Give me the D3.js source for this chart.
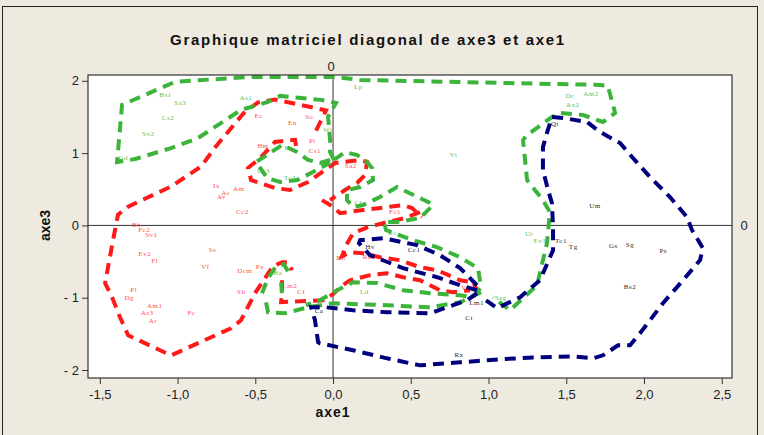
<!DOCTYPE html>
<html>
<head>
<meta charset="utf-8">
<script src="https://cdn.jsdelivr.net/npm/d3@7"></script>
<style>
  html, body { margin: 0; padding: 0; background: #eeeae0; }
  svg { display: block; }
</style>
</head>
<body>
<div id="chart"></div>
<script>
// --- chart values ---
const xTicks = [-1.5, -1.0, -0.5, 0.0, 0.5, 1.0, 1.5, 2.0, 2.5];
const yTicks = [-2, -1, 0, 1, 2];

// point labels per group: [name, axe1, axe3]
const redPoints = [
  ["Ec", -0.478, 1.518], ["En", -0.262, 1.421], ["So", -0.154, 1.504], ["Pt", -0.133, 1.172],
  ["Cs1", -0.118, 1.033], ["Hm", -0.450, 1.102], ["Ix", -0.750, 0.558], ["Ac", -0.690, 0.461],
  ["Av", -0.718, 0.406], ["Am", -0.606, 0.503], ["Cc2", -0.583, 0.188], ["Bh", -1.265, 0.014],
  ["Fc2", -1.215, -0.055], ["Sv1", -1.168, -0.120], ["Ev2", -1.211, -0.388], ["Fl", -1.147, -0.481],
  ["Ss", -0.776, -0.328], ["Vf", -0.821, -0.573], ["Dcm", -0.568, -0.619], ["Pa", -0.471, -0.573],
  ["Pl", -1.282, -0.886], ["Dg", -1.310, -0.997], ["Am1", -1.147, -1.104], ["As3", -1.196, -1.201],
  ["Ar", -1.158, -1.321], ["Fc", -0.911, -1.211], ["Sh", -0.590, -0.920], ["Lm2", -0.278, -0.827],
  ["Cf", -0.204, -0.920], ["Sa2", 0.114, 0.825], ["Fc1", 0.399, 0.194], ["Bh", 0.050, -0.449],
  ["Rda", 0.233, -0.425], ["Vts", 0.860, -0.859]
];
const greenPoints = [
  ["Bs1", -1.078, 1.814], ["Sa3", -0.982, 1.698], ["Cs2", -1.061, 1.496], ["Sv2", -1.188, 1.274],
  ["Gd", -1.350, 0.936], ["As1", -0.561, 1.773], ["Wt", -0.032, 1.330], ["Fr", -0.289, 1.071],
  ["Cc3", -0.446, 0.752], ["Tc2", -0.278, 0.665], ["Lp", 0.163, 1.920], ["Vt", 0.774, 0.983],
  ["Dc", 1.524, 1.801], ["Ax2", 1.541, 1.676], ["Am2", 1.659, 1.823], ["Ch", 0.167, 0.313],
  ["Rc", 0.384, -0.093], ["Ur", 1.262, -0.111], ["Ev1", 1.331, -0.204], ["Ld", 0.201, -0.920],
  ["Sag", 1.078, -0.997], ["Ba", -0.354, -0.651]
];
const darkPoints = [
  ["Hv", 0.238, -0.296], ["Cc1", 0.521, -0.338], ["Lm1", 0.924, -1.066], ["Ct", 0.875, -1.274],
  ["Rx", 0.810, -1.787], ["Ca", -0.090, -1.173], ["Tc1", 1.466, -0.213], ["Tg", 1.545, -0.296],
  ["Gs", 1.803, -0.283], ["Sg", 1.910, -0.259], ["Ps", 2.124, -0.352], ["Bs2", 1.910, -0.850],
  ["Um", 1.685, 0.271], ["Qt", 1.428, 1.413]
];

// hand drawn group outlines: [axe1, axe3] vertices
const redOutlines = [
  [[-0.109,1.312],[-0.045,1.590],[-0.373,1.742],[-0.482,1.701],[-0.566,1.576],[-0.759,1.078],
   [-0.849,0.814],[-1.042,0.537],[-1.318,0.260],[-1.383,0.149],[-1.415,-0.204],[-1.466,-0.800],
   [-1.421,-0.994],[-1.370,-1.271],[-1.318,-1.520],[-1.042,-1.797],[-0.656,-1.423],[-0.592,-1.312],
   [-0.502,-0.938],[-0.386,-0.564],[-0.328,-0.509],[-0.289,-0.509],[-0.264,-0.620]],
  [[-0.238,1.100],[-0.244,1.183],[-0.373,1.155],[-0.469,0.932],[-0.547,0.794],[-0.527,0.627],
   [-0.373,0.517],[-0.277,0.489],[-0.161,0.600],[-0.071,0.738],[0.013,0.863],[0.174,0.904],
   [0.219,0.877],[0.206,0.697],[0.154,0.586],[0.077,0.489],[-0.019,0.350]],
  [[-0.071,0.350],[-0.006,0.267],[0.045,0.170],[0.193,0.212],[0.450,0.281],[0.508,0.240],[0.572,0.115]],
  [[0.559,0.184],[0.463,0.101],[0.322,0.032],[0.225,-0.024],[0.129,-0.107],[0.084,-0.273],
   [0.058,-0.425],[0.109,-0.370],[0.193,-0.384],[0.302,-0.440],[0.431,-0.481],[0.559,-0.578],
   [0.669,-0.619],[0.817,-0.758],[0.900,-0.786],[0.926,-0.896]],
  [[-0.328,-0.758],[-0.328,-0.938],[-0.334,-1.062],[-0.212,-1.048],[-0.064,-1.035],[0.000,-0.952],
   [0.045,-0.855],[0.109,-0.758],[0.238,-0.688],[0.347,-0.661],[0.450,-0.717],[0.559,-0.758],
   [0.688,-0.896],[0.772,-0.924],[0.881,-0.896]]
];
const greenOutlines = [
  [[0.006,0.905],[-0.019,1.015],[-0.019,1.181],[-0.032,1.500],[0.019,1.694],[-0.077,1.736],
   [-0.341,1.791],[-0.418,1.708],[-0.592,1.597],[-0.868,1.209],[-1.042,1.070],[-1.273,0.918],
   [-1.389,0.877],[-1.357,1.666],[-1.016,1.985],[-0.534,2.054],[0.013,2.054],[0.174,2.012],
   [1.717,1.943],[1.768,1.929],[1.814,1.555],[1.736,1.430],[1.608,1.527],[1.460,1.555],
   [1.408,1.499],[1.248,1.250],[1.222,1.181],[1.248,0.627],[1.350,0.350],[1.395,0.184],
   [1.376,-0.246],[1.312,-0.827],[1.138,-1.174],[1.029,-0.993]],
  [[0.006,0.905],[0.077,1.015],[0.154,0.974],[0.219,0.877],[0.251,0.794],[0.257,0.627],
   [0.174,0.531],[0.090,0.489],[0.090,0.350],[0.129,0.254],[0.193,0.281],[0.302,0.392],
   [0.412,0.531],[0.624,0.309],[0.643,0.281],[0.559,0.101],[0.412,0.046],[0.328,0.046],
   [0.341,-0.065],[0.514,-0.204],[0.669,-0.301],[0.817,-0.440],[0.932,-0.591],[0.952,-0.855],
   [0.900,-0.993],[0.817,-0.965],[0.624,-0.938],[0.450,-0.896],[0.283,-0.797],[0.129,-0.786],
   [0.026,-0.896],[-0.084,-1.035],[-0.174,-1.104]],
  [[0.952,-0.924],[0.817,-1.062],[0.624,-1.132],[0.347,-1.104],[0.000,-1.076],[-0.161,-1.132],
   [-0.309,-1.215],[-0.418,-1.201],[-0.431,-1.062]],
  [[-0.457,-0.938],[-0.418,-0.730],[-0.367,-0.564],[-0.315,-0.537],[-0.277,-0.689]],
  [[-0.334,-0.786],[-0.328,-0.979]],
  [[-0.019,0.905],[-0.084,0.863],[-0.161,0.905],[-0.232,1.015],[-0.328,1.112],[-0.405,1.001],
   [-0.495,0.877],[-0.450,0.738],[-0.424,0.655],[-0.341,0.600],[-0.232,0.627],[-0.129,0.738],
   [-0.084,0.794],[-0.019,0.863]]
];
const darkOutlines = [
  [[0.984,-1.035],[1.055,-1.145],[1.203,-0.993],[1.331,-0.758],[1.415,-0.343],[1.415,-0.024],
   [1.408,0.309],[1.383,0.489],[1.350,0.766],[1.350,1.085],[1.376,1.279],[1.408,1.500],
   [1.479,1.486],[1.633,1.431],[1.717,1.292],[1.846,1.140],[1.929,0.932],[2.039,0.669],
   [2.167,0.392],[2.277,0.115],[2.309,-0.066],[2.379,-0.315],[2.360,-0.481],[2.251,-0.758],
   [2.122,-1.076],[1.974,-1.492],[1.910,-1.658],[1.833,-1.658],[1.736,-1.796],[1.672,-1.838],
   [1.543,-1.811],[1.286,-1.825],[1.074,-1.852],[0.817,-1.893],[0.559,-1.935],[0.347,-1.838],
   [0.129,-1.727],[-0.084,-1.630],[-0.096,-1.616],[-0.116,-1.311],[-0.141,-1.131],[-0.051,-1.131],
   [0.129,-1.173],[0.347,-1.201],[0.624,-1.215],[0.733,-1.131],[0.862,-1.035],[0.926,-0.938]],
  [[0.926,-0.827],[0.817,-0.591],[0.688,-0.412],[0.540,-0.273],[0.322,-0.176],[0.174,-0.204],
   [0.167,-0.246],[0.238,-0.412],[0.450,-0.591],[0.669,-0.716],[0.817,-0.827],[0.926,-0.896]]
];

// --- layout ---
const W = 764, H = 435;
const plot = { left: 88, right: 732, top: 75, bottom: 378 };
const RED = "#ff1a1a", GREEN = "#3cb43c", NAVY = "#00007f";
const SANS = "'Liberation Sans', Arial, sans-serif";

const svg = d3.select("#chart").append("svg").attr("width", W).attr("height", H);
svg.append("rect").attr("width", W).attr("height", H).attr("fill", "#eeeae0");
svg.append("rect").attr("x", 2.5).attr("y", 6.5).attr("width", 755).attr("height", 440)
  .attr("fill", "none").attr("stroke", "#222");

const x = d3.scaleLinear().domain([-1.576, 2.566]).range([plot.left, plot.right]);
const y = d3.scaleLinear().domain([-2.11, 2.08]).range([plot.bottom, plot.top]);

svg.append("rect").attr("x", plot.left).attr("y", plot.top)
  .attr("width", plot.right - plot.left).attr("height", plot.bottom - plot.top)
  .attr("fill", "#fff");

svg.append("text").attr("x", 368).attr("y", 45).attr("text-anchor", "middle")
  .style("font-family", SANS).style("font-size", "15px")
  .style("font-weight", "bold").style("letter-spacing", "1.7px").attr("fill", "#111")
  .text("Graphique matriciel diagonal de axe3 et axe1");

// reference lines at 0
svg.append("line").attr("x1", x(0)).attr("x2", x(0)).attr("y1", plot.top).attr("y2", plot.bottom)
  .attr("stroke", "#333").attr("stroke-width", 1);
svg.append("line").attr("x1", plot.left).attr("x2", plot.right).attr("y1", y(0)).attr("y2", y(0))
  .attr("stroke", "#333").attr("stroke-width", 1);
svg.append("text").attr("x", x(0) - 2).attr("y", 71).attr("text-anchor", "middle")
  .style("font-family", SANS).style("font-size", "13px").attr("fill", "#222").text("0");
svg.append("text").attr("x", 744).attr("y", y(0) + 5).attr("text-anchor", "middle")
  .style("font-family", SANS).style("font-size", "13px").attr("fill", "#222").text("0");

// everything inside the plot is clipped to it
svg.append("clipPath").attr("id", "plotclip").append("rect")
  .attr("x", plot.left).attr("y", plot.top).attr("width", plot.right - plot.left).attr("height", plot.bottom - plot.top);
const inner = svg.append("g").attr("clip-path", "url(#plotclip)");

function drawLabels(points, color) {
  inner.append("g").selectAll("text").data(points).join("text")
    .attr("x", d => x(d[1])).attr("y", d => y(d[2])).attr("dy", "0.35em")
    .attr("text-anchor", "middle")
    .style("font-family", "'Liberation Serif', 'Times New Roman', serif").style("font-size", "7px")
    .style("letter-spacing", "0.5px").attr("fill", color)
    .text(d => d[0]);
}
drawLabels(redPoints, "#ff4f4f");
drawLabels(greenPoints, "#5cc05c");
drawLabels(darkPoints, "#2a2a2a");

const line = d3.line().x(d => x(d[0])).y(d => y(d[1]));
function drawOutlines(paths, color) {
  inner.append("g").selectAll("path").data(paths).join("path")
    .attr("d", line).attr("fill", "none").attr("stroke", color)
    .attr("stroke-width", 4).attr("stroke-dasharray", "11,7");
}
drawOutlines(redOutlines, RED);
drawOutlines(greenOutlines, GREEN);
drawOutlines(darkOutlines, NAVY);

// plot frame
svg.append("rect").attr("x", plot.left).attr("y", plot.top)
  .attr("width", plot.right - plot.left).attr("height", plot.bottom - plot.top)
  .attr("fill", "none").attr("stroke", "#333").attr("stroke-width", 1.2);

// axes
const fmtX = d => d3.format(".1f")(d).replace(".", ",").replace("−", "-");
const fmtY = d => d3.format("d")(d).replace("−", "- ");
const xAxis = svg.append("g").attr("transform", `translate(0,${plot.bottom})`)
  .call(d3.axisBottom(x).tickValues(xTicks).tickFormat(fmtX).tickSize(6).tickSizeOuter(0));
const yAxis = svg.append("g").attr("transform", `translate(${plot.left},0)`)
  .call(d3.axisLeft(y).tickValues(yTicks).tickFormat(fmtY).tickSize(6).tickSizeOuter(0));
[xAxis, yAxis].forEach(g => {
  g.select(".domain").remove();
  g.selectAll("line").attr("stroke", "#333");
  g.selectAll("text").style("font-family", SANS).style("font-size", "13px").attr("fill", "#222");
});
xAxis.selectAll("text").attr("dy", "0.95em");

svg.append("text").attr("x", x(0)).attr("y", 417).attr("text-anchor", "middle")
  .style("font-family", SANS).style("font-size", "14px")
  .style("font-weight", "bold").style("letter-spacing", "1px").attr("fill", "#111").text("axe1");
svg.append("text").attr("transform", `translate(50,${y(0)}) rotate(-90)`).attr("text-anchor", "middle")
  .style("font-family", SANS).style("font-size", "14px")
  .style("font-weight", "bold").attr("fill", "#111").text("axe3");
</script>
</body>
</html>
